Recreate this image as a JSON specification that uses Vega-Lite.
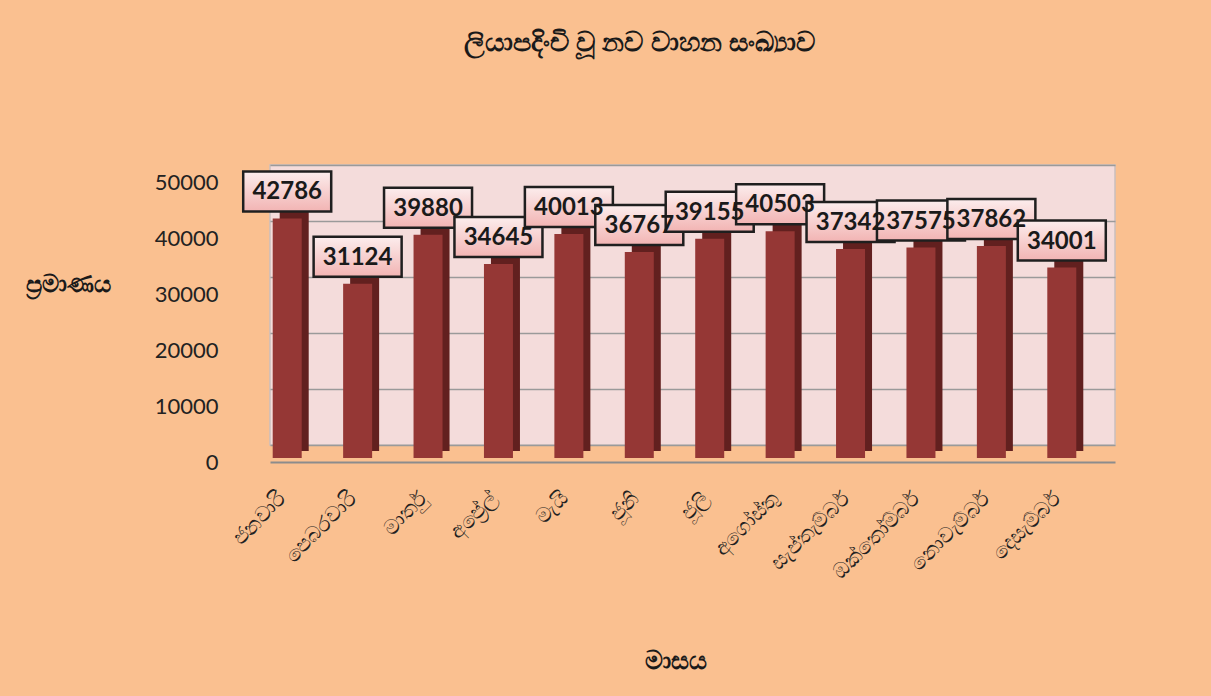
{
  "$schema": "https://vega.github.io/schema/vega-lite/v6.json",
  "autosize": {"type": "none"},
  "width": 845,
  "height": 280,
  "padding": {"left": 270, "top": 165, "right": 96, "bottom": 251},
  "background": "#FAC090",
  "config": {
    "view": {"fill": "#F4DCDB", "stroke": "#C9BFBF", "strokeWidth": 1.5},
    "font": "Noto Sans"
  },
  "title": {
    "text": "ලියාපදිංචි වූ නව වාහන සංඛ්‍යාව",
    "anchor": "middle",
    "frame": "group",
    "dx": -53,
    "offset": 108,
    "fontSize": 27,
    "fontWeight": "bold",
    "color": "#1a1a1a"
  },
  "data": {
    "values": [
      {"month": "ජනවාරි", "count": 42786},
      {"month": "පෙබරවාරි", "count": 31124},
      {"month": "මාර්තු", "count": 39880},
      {"month": "අප්‍රේල්", "count": 34645},
      {"month": "මැයි", "count": 40013},
      {"month": "ජූනි", "count": 36767},
      {"month": "ජූලි", "count": 39155},
      {"month": "අගෝස්තු", "count": 40503},
      {"month": "සැප්තැම්බර්", "count": 37342},
      {"month": "ඔක්තෝම්බර්", "count": 37575},
      {"month": "නොවැම්බර්", "count": 37862},
      {"month": "දෙසැම්බර්", "count": 34001}
    ]
  },
  "encoding": {
    "x": {
      "field": "month",
      "type": "nominal",
      "sort": null,
      "scale": {"paddingInner": 0, "paddingOuter": 0},
      "axis": {
        "title": "මාසය",
        "titleFontSize": 25,
        "titleFontWeight": "bold",
        "titleColor": "#1a1a1a",
        "titleX": 405,
        "titleY": 186,
        "titleAnchor": null,
        "offset": 17,
        "ticks": false,
        "domain": true,
        "domainColor": "#8C8C8C",
        "domainWidth": 2,
        "labelAngle": -45,
        "labelAlign": "right",
        "labelBaseline": "middle",
        "labelOffset": -22,
        "labelPadding": 33,
        "labelFontSize": 21,
        "labelColor": "#222222"
      }
    },
    "y": {
      "field": "count",
      "type": "quantitative",
      "scale": {"domain": [0, 50000], "nice": false},
      "axis": {
        "title": "ප්‍රමාණය",
        "titleFontSize": 24,
        "titleFontWeight": "bold",
        "titleColor": "#1a1a1a",
        "titleAngle": 0,
        "titleAlign": "center",
        "titleBaseline": "middle",
        "titleX": -177,
        "titleY": 119,
        "values": [0, 10000, 20000, 30000, 40000, 50000],
        "format": "d",
        "offset": 25,
        "ticks": false,
        "domain": false,
        "labelOffset": 17,
        "labelPadding": 27,
        "labelFont": "Lato",
        "labelFontSize": 22,
        "labelColor": "#222222",
        "grid": true,
        "gridColor": "#9A9A9A",
        "gridWidth": 1.5
      }
    }
  },
  "layer": [
    {
      "mark": {"type": "bar", "color": "#62201F", "width": 29, "xOffset": -11, "yOffset": 6}
    },
    {
      "mark": {"type": "bar", "color": "#953735", "width": 29, "xOffset": -18, "yOffset": 13}
    },
    {
      "mark": {
        "type": "point",
        "shape": "M-1,-0.4545L1,-0.4545L1,0.4545L-1,0.4545Z",
        "size": 7744,
        "filled": true,
        "fill": {
          "gradient": "linear",
          "x1": 0, "y1": 0, "x2": 0, "y2": 1,
          "stops": [
            {"offset": 0, "color": "#FCEDED"},
            {"offset": 1, "color": "#F2B4B3"}
          ]
        },
        "stroke": "#1F1F1F",
        "strokeWidth": 2.5,
        "opacity": 1,
        "xOffset": -18,
        "yOffset": -14
      }
    },
    {
      "mark": {
        "type": "text",
        "font": "Lato",
        "fontSize": 24,
        "fontWeight": "bold",
        "color": "#1a1a1a",
        "baseline": "middle",
        "align": "center",
        "xOffset": -18,
        "yOffset": -13
      },
      "encoding": {"text": {"field": "count", "type": "quantitative", "format": "d"}}
    }
  ]
}
